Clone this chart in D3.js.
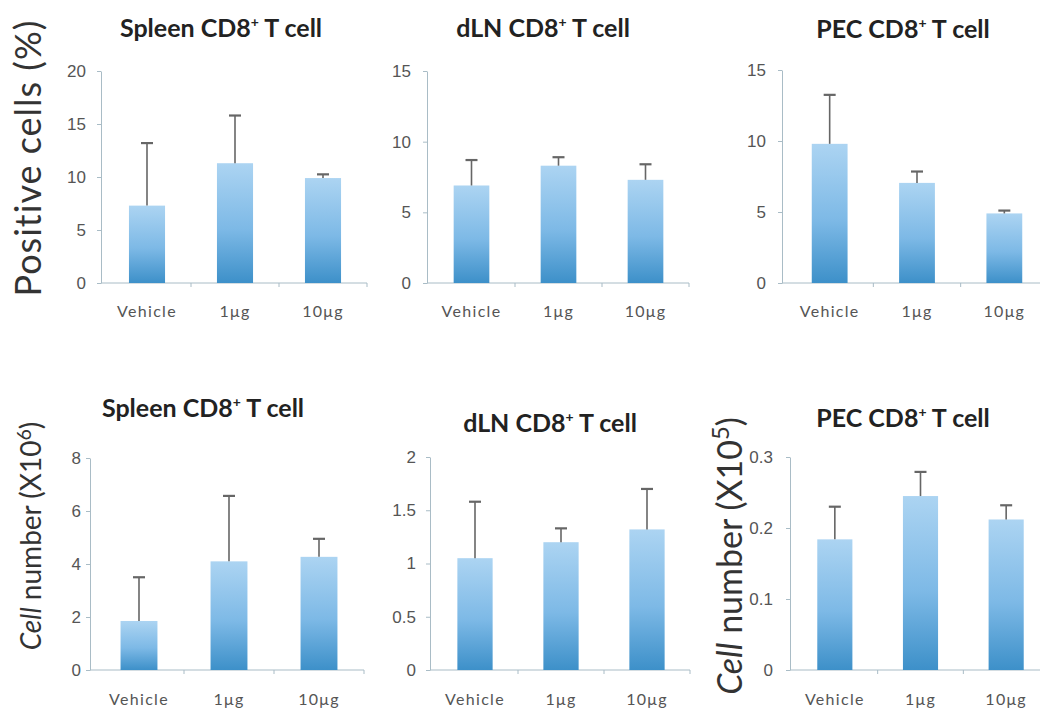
<!DOCTYPE html>
<html>
<head>
<meta charset="utf-8">
<script src="https://cdn.jsdelivr.net/npm/d3@7"></script>
<style>
  body { margin: 0; background: #fff; }
  svg { display: block; font-family: Lato, "Open Sans", sans-serif; }
  .tick text { fill: #555; font-size: 17px; }
  .xlab { fill: #555; font-size: 16px; letter-spacing: 1.3px; }
  .title { fill: #222; font-size: 25px; font-weight: bold; }
  .ylab { fill: #333; }
</style>
</head>
<body>
<div id="chart"></div>
<script>
// categories
var groups = ["Vehicle", "1\u03bcg", "10\u03bcg"];

// percent positive cells (mean, sd)
var spleenPct = [7.3, 11.3, 9.9];
var spleenPctSd = [5.9, 4.5, 0.35];
var dlnPct = [6.9, 8.3, 7.3];
var dlnPctSd = [1.8, 0.6, 1.1];
var pecPct = [9.8, 7.05, 4.9];
var pecPctSd = [3.45, 0.8, 0.2];

// cell numbers (mean, sd)
var spleenNum = [1.85, 4.1, 4.27];
var spleenNumSd = [1.65, 2.47, 0.68];
var dlnNum = [1.05, 1.2, 1.32];
var dlnNumSd = [0.53, 0.13, 0.38];
var pecNum = [0.184, 0.245, 0.212];
var pecNumSd = [0.046, 0.034, 0.02];

// y axis ticks
var pctTicks20 = [0, 5, 10, 15, 20];
var pctTicks15 = [0, 5, 10, 15];
var spleenNumTicks = [0, 2, 4, 6, 8];
var dlnNumTicks = [0, 0.5, 1, 1.5, 2];
var pecNumTicks = [0, 0.1, 0.2, 0.3];

var titles = ["Spleen", "dLN", "PEC", "Spleen", "dLN", "PEC"];

var panels = [
    { mean: spleenPct, sd: spleenPctSd, ticks: pctTicks20 },
    { mean: dlnPct, sd: dlnPctSd, ticks: pctTicks15 },
    { mean: pecPct, sd: pecPctSd, ticks: pctTicks15 },
    { mean: spleenNum, sd: spleenNumSd, ticks: spleenNumTicks },
    { mean: dlnNum, sd: dlnNumSd, ticks: dlnNumTicks },
    { mean: pecNum, sd: pecNumSd, ticks: pecNumTicks }
];

// pixel layout of each panel
var layout = [
    { ax: 101, x0: 103, x1: 367, top: 71, bottom: 283, gap: 11, tx: 221, ty: 37, ly: 310 },
    { ax: 427, x0: 428, x1: 689, top: 71, bottom: 283, gap: 12, tx: 543, ty: 37, ly: 310 },
    { ax: 782, x0: 786, x1: 1048, top: 70, bottom: 283, gap: 12, tx: 903, ty: 38, ly: 310 },
    { ax: 90, x0: 94, x1: 364, top: 458, bottom: 670, gap: 5, tx: 203, ty: 417, ly: 698 },
    { ax: 430, x0: 432, x1: 690, top: 457, bottom: 670, gap: 10, tx: 550, ty: 432, ly: 698 },
    { ax: 790, x0: 792, x1: 1049, top: 457, bottom: 670, gap: 13, tx: 903, ty: 427, ly: 698 }
];

var svg = d3.select("#chart")
    .append("svg")
    .attr("width", 1040)
    .attr("height", 708);

// bar gradient, light at the top and darker blue at the base
var grad = svg.append("defs").append("linearGradient")
    .attr("id", "barfill")
    .attr("x1", 0).attr("y1", 0).attr("x2", 0).attr("y2", 1);
grad.append("stop").attr("offset", "0%").attr("stop-color", "#acd4f2");
grad.append("stop").attr("offset", "55%").attr("stop-color", "#7db9e6");
grad.append("stop").attr("offset", "100%").attr("stop-color", "#3d90c9");

panels.forEach(function (p, i) {
    var L = layout[i];
    var g = svg.append("g");

    var x = d3.scaleBand()
        .domain(groups)
        .range([L.x0, L.x1])
        .paddingInner(0.59)
        .paddingOuter(0.295);

    var y = d3.scaleLinear()
        .domain([0, d3.max(p.ticks)])
        .range([L.bottom, L.top]);

    // y axis
    var yAxis = g.append("g")
        .attr("transform", "translate(" + L.ax + ",0)")
        .call(d3.axisLeft(y).tickValues(p.ticks).tickSize(4).tickSizeOuter(0)
            .tickPadding(L.gap).tickFormat(d3.format("")));
    yAxis.select(".domain").attr("stroke", "#a9bcc6");
    yAxis.selectAll(".tick line").attr("stroke", "#a9bcc6");

    // x axis line and boundary ticks
    g.append("line")
        .attr("x1", L.ax).attr("x2", L.x1)
        .attr("y1", y(0)).attr("y2", y(0))
        .attr("stroke", "#a9bcc6");
    g.selectAll(".bt")
        .data(d3.range(1, groups.length + 1))
        .enter().append("line")
        .attr("x1", function (k) { return L.x0 + k * x.step(); })
        .attr("x2", function (k) { return L.x0 + k * x.step(); })
        .attr("y1", y(0)).attr("y2", y(0) + 4)
        .attr("stroke", "#a9bcc6");

    // bars
    g.selectAll(".bar")
        .data(groups)
        .enter().append("rect")
        .attr("x", function (d) { return x(d); })
        .attr("y", function (d, j) { return y(p.mean[j]); })
        .attr("width", x.bandwidth())
        .attr("height", function (d, j) { return y(0) - y(p.mean[j]); })
        .attr("fill", "url(#barfill)");

    // error bars (upper only)
    g.selectAll(".err")
        .data(groups)
        .enter().append("line")
        .attr("x1", function (d) { return x(d) + x.bandwidth() / 2; })
        .attr("x2", function (d) { return x(d) + x.bandwidth() / 2; })
        .attr("y1", function (d, j) { return y(p.mean[j]); })
        .attr("y2", function (d, j) { return y(p.mean[j] + p.sd[j]); })
        .attr("stroke", "#666").attr("stroke-width", 1.6);
    g.selectAll(".cap")
        .data(groups)
        .enter().append("line")
        .attr("x1", function (d) { return x(d) + x.bandwidth() / 2 - 6; })
        .attr("x2", function (d) { return x(d) + x.bandwidth() / 2 + 6; })
        .attr("y1", function (d, j) { return y(p.mean[j] + p.sd[j]); })
        .attr("y2", function (d, j) { return y(p.mean[j] + p.sd[j]); })
        .attr("stroke", "#666").attr("stroke-width", 2.2);

    // category labels
    g.selectAll(".xlab")
        .data(groups)
        .enter().append("text")
        .attr("class", "xlab")
        .attr("x", function (d) { return x(d) + x.bandwidth() / 2; })
        .attr("y", L.ly)
        .attr("text-anchor", "middle")
        .attr("dominant-baseline", "central")
        .text(function (d) { return d; });

    // panel title
    var t = g.append("text")
        .attr("class", "title")
        .attr("x", L.tx)
        .attr("y", L.ty)
        .attr("text-anchor", "middle");
    t.append("tspan").text(titles[i] + " CD8");
    t.append("tspan").attr("dy", -10).attr("font-size", "14px").text("+");
    t.append("tspan").attr("dy", 10).text(" T cell");
});

// y axis labels
svg.append("text")
    .attr("class", "ylab")
    .attr("transform", "translate(27,158) rotate(-90)")
    .attr("text-anchor", "middle")
    .attr("dominant-baseline", "central")
    .attr("font-size", "36px")
    .attr("letter-spacing", "1px")
    .text("Positive cells (%)");

function cellLabel(cx, cy, size, exp) {
    var t = svg.append("text")
        .attr("class", "ylab")
        .attr("transform", "translate(" + cx + "," + cy + ") rotate(-90)")
        .attr("text-anchor", "middle")
        .attr("dominant-baseline", "central")
        .attr("font-size", size + "px");
    t.append("tspan").attr("font-style", "italic").text("Cell");
    t.append("tspan").text(" number (X10");
    t.append("tspan").attr("dy", -size * 0.25).attr("font-size", (size * 0.7) + "px").text(exp);
    t.append("tspan").attr("dy", size * 0.25).text(")");
}
cellLabel(30, 536, 28, "6");
cellLabel(728, 556, 34, "5");
</script>
</body>
</html>
